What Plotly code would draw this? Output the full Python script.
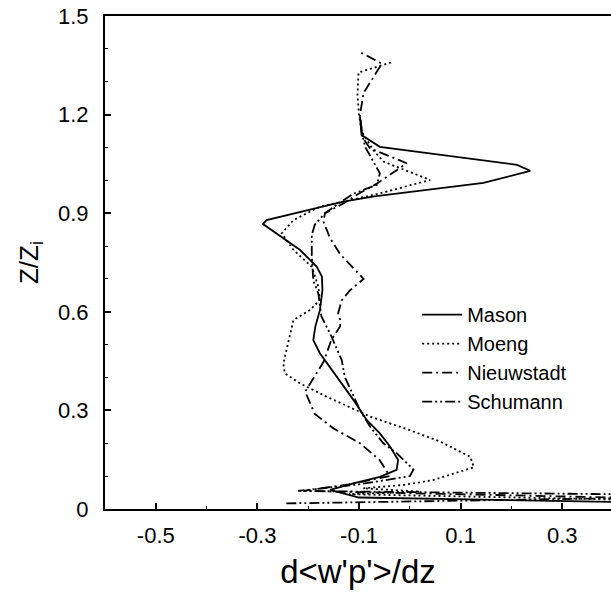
import plotly.graph_objects as go

# ---- data (height z/zi, value d<w'p'>/dz) ----
mason_z = [0.005, 0.035, 0.058, 0.078, 0.098, 0.119, 0.149, 0.19, 0.23, 0.271, 0.332, 0.403, 0.474,
           0.514, 0.555, 0.605, 0.666, 0.707, 0.737, 0.788, 0.824, 0.867, 0.879, 0.935, 0.951,
           0.992, 1.029, 1.047, 1.102, 1.138, 1.194]
mason_v = [1.0, -0.10, -0.157, -0.111, -0.059, -0.026, -0.023, -0.039, -0.059, -0.085, -0.111, -0.144, -0.177,
           -0.19, -0.186, -0.177, -0.172, -0.173, -0.183, -0.216, -0.249, -0.289, -0.282, -0.131, -0.07,
           0.145, 0.237, 0.211, -0.059, -0.095, -0.098]

moeng_z = [0.02, 0.045, 0.053, 0.063, 0.073, 0.088, 0.127, 0.159, 0.205, 0.24, 0.281, 0.342, 0.382,
           0.413, 0.443, 0.514, 0.535, 0.575, 0.605, 0.636, 0.676, 0.737, 0.788, 0.839, 0.879, 0.92,
           0.935, 0.96, 1.001, 1.057, 1.092, 1.15, 1.2, 1.26, 1.328, 1.36]
moeng_v = [0.7, -0.12, 0.02, -0.092, -0.013, 0.046, 0.126, 0.119, 0.06, 0.0, -0.078, -0.164, -0.216,
           -0.246, -0.249, -0.239, -0.236, -0.229, -0.197, -0.177, -0.18, -0.193, -0.229, -0.252, -0.229, -0.177,
           -0.131, -0.06, 0.04, -0.052, -0.072, -0.095, -0.1, -0.103, -0.101, -0.034]

nieuw_z = [0.025, 0.055, 0.075, 0.1, 0.114, 0.15, 0.2, 0.245, 0.289, 0.357, 0.372, 0.447, 0.516,
           0.556, 0.575, 0.596, 0.635, 0.665, 0.70, 0.745, 0.775, 0.824, 0.874, 0.9, 0.93, 0.96, 0.99,
           1.052, 1.097, 1.13, 1.2, 1.266, 1.355, 1.39]
nieuw_v = [0.7, -0.21, -0.12, -0.04, -0.045, -0.06, -0.098, -0.15, -0.187, -0.206, -0.2, -0.17, -0.154,
           -0.137, -0.137, -0.141, -0.134, -0.118, -0.091, -0.118, -0.137, -0.157, -0.17, -0.167, -0.13, -0.1, -0.065,
           -0.006, -0.078, -0.093, -0.098, -0.091, -0.055, -0.098]

schu_z = [0.017, 0.04, 0.055, 0.075, 0.1, 0.12, 0.17, 0.2, 0.25, 0.301, 0.402, 0.453, 0.534, 0.586,
          0.655, 0.695, 0.774, 0.834, 0.865, 0.9, 0.93, 0.96, 0.986, 1.021, 1.102, 1.15, 1.19]
schu_v = [-0.243, 0.7, -0.22, -0.1, 0.0, 0.007, -0.026, -0.052, -0.078, -0.098, -0.128, -0.134, -0.157, -0.174,
          -0.18, -0.19, -0.193, -0.193, -0.187, -0.167, -0.14, -0.11, -0.065, -0.059, -0.088, -0.095, -0.097]

names = ["Mason", "Moeng", "Nieuwstadt", "Schumann"]
series_z = [mason_z, moeng_z, nieuw_z, schu_z]
series_v = [mason_v, moeng_v, nieuw_v, schu_v]
dashes = ["solid", "2px,3px", "10px,4px,2px,4px", "10px,3px,2px,3px,2px,3px"]

x_ticks = [-0.5, -0.3, -0.1, 0.1, 0.3]
x_ticktext = ["-0.5", "-0.3", "-0.1", "0.1", "0.3"]
x_minor = [-0.4, -0.2, 0.0, 0.2]
y_ticks = [0, 0.3, 0.6, 0.9, 1.2, 1.5]
y_ticktext = ["0", "0.3", "0.6", "0.9", "1.2", "1.5"]
y_minor = [0.1, 0.2, 0.4, 0.5, 0.7, 0.8, 1.0, 1.1, 1.3, 1.4]

fig = go.Figure()
for n, z, v, d in zip(names, series_z, series_v, dashes):
    fig.add_trace(go.Scatter(x=v, y=z, mode="lines", name=n,
                             line=dict(color="black", width=1.8, dash=d)))

font_family = "Liberation Sans, Arial, Helvetica, sans-serif"
fig.update_layout(
    width=611, height=599,
    margin=dict(l=105, r=0, t=16, b=90),
    paper_bgcolor="white", plot_bgcolor="white",
    font=dict(family=font_family, color="black"),
    showlegend=True,
    legend=dict(x=0.617, y=0.434, xanchor="left", yanchor="top",
                bgcolor="rgba(0,0,0,0)", borderwidth=0,
                font=dict(size=20, family=font_family, color="black"),
                itemwidth=40),
    xaxis=dict(range=[-0.6, 0.396], showgrid=False, zeroline=False,
               showline=True, linecolor="black", linewidth=2, mirror=True,
               ticks="inside", ticklen=6, tickwidth=1.5, tickcolor="black",
               tickvals=x_ticks, ticktext=x_ticktext,
               tickfont=dict(size=22, family=font_family, color="black"),
               ticklabelstandoff=6,
               minor=dict(tickvals=x_minor, ticks="inside", ticklen=3, tickwidth=1, tickcolor="black"),
               title=dict(text="d&lt;w'p'&gt;/dz", font=dict(size=33, family=font_family, color="black"),
                          standoff=12)),
    yaxis=dict(range=[0, 1.5], showgrid=False, zeroline=False,
               showline=True, linecolor="black", linewidth=2, mirror=False,
               ticks="inside", ticklen=6, tickwidth=1.5, tickcolor="black",
               tickvals=y_ticks, ticktext=y_ticktext,
               tickfont=dict(size=22, family=font_family, color="black"),
               ticklabelstandoff=10,
               minor=dict(tickvals=y_minor, ticks="inside", ticklen=3, tickwidth=1, tickcolor="black"),
               title=dict(text="Z/Z<sub>i</sub>", font=dict(size=26, family=font_family, color="black"),
                          standoff=12)),
)

fig.write_html("out.html")
